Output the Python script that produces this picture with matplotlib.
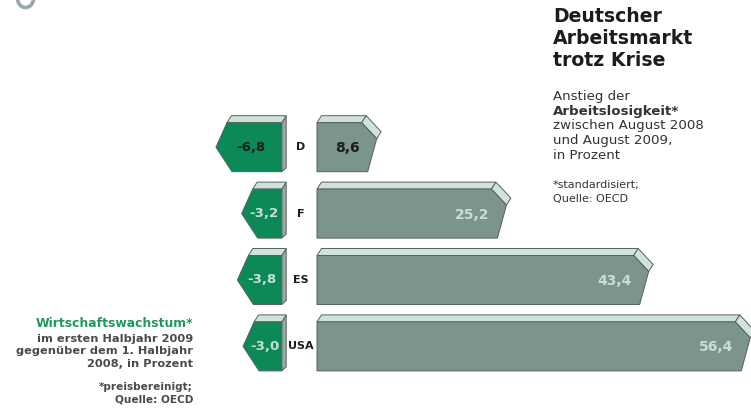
import matplotlib
matplotlib.use('Agg')
import matplotlib.pyplot as plt
from matplotlib.patches import Polygon, Arc

# ---------------- data ----------------
countries = ['D', 'F', 'ES', 'USA']
unemployment_rise = [8.6, 25.2, 43.4, 56.4]
unemployment_labels = ['8,6', '25,2', '43,4', '56,4']
growth = [-6.8, -3.2, -3.8, -3.0]
growth_labels = ['-6,8', '-3,2', '-3,8', '-3,0']
highlight = ['D']

title_lines = ['Deutscher', 'Arbeitsmarkt', 'trotz Krise']
subtitle_lines = [('Anstieg der', 'normal'), ('Arbeitslosigkeit*', 'bold'),
                  ('zwischen August 2008', 'normal'), ('und August 2009,', 'normal'),
                  ('in Prozent', 'normal')]
right_note = ['*standardisiert;', 'Quelle: OECD']
left_head = 'Wirtschaftswachstum*'
left_lines = ['im ersten Halbjahr 2009', 'gegenüber dem 1. Halbjahr', '2008, in Prozent']
left_note = ['*preisbereinigt;', 'Quelle: OECD']

# ---------------- style / layout ----------------
W, H = 751, 412
ROW0, ROWSTEP = 147.2, 66.4          # pixel centre of first row, row spacing
GRAY_ZERO, GRAY_PX = 309.5, 7.815    # pixel of value 0, pixels per unit
GREEN_ZERO, GREEN_PX = 264.5, 7.14
GRAY_START_PX = 317.0
GREEN_EDGE_PX = 281.7
HALF = 24.5        # half body height in px
DEPTH_X, DEPTH_Y = 4.5, 7.0

C_GREEN = '#0b8a57'
C_GRAY = '#7c958a'
C_TOP = '#cfe3da'
C_SIDE = '#9aa8a2'
C_EDGE = '#56625d'
C_LIGHTTXT = '#c9ddd5'
C_DARK = '#1c1c1c'
C_NOTE = '#4a4a4a'

fig = plt.figure(figsize=(W / 100, H / 100), dpi=100)
fig.patch.set_facecolor('white')


def make_ax(zero, pxu):
    ax = fig.add_axes([0, 0, 1, 1])
    ax.set_xlim(-zero / pxu, (W - zero) / pxu)
    ax.set_ylim((H - ROW0) / ROWSTEP, -ROW0 / ROWSTEP)
    ax.axis('off')
    ax.patch.set_alpha(0)
    return ax


ax_g = make_ax(GREEN_ZERO, GREEN_PX)
ax_r = make_ax(GRAY_ZERO, GRAY_PX)


def dy(p):
    return p / ROWSTEP


def add(ax, pts, fc, lw=0.7, z=2):
    ax.add_patch(Polygon(pts, closed=True, facecolor=fc, edgecolor=C_EDGE,
                         linewidth=lw, joinstyle='miter', zorder=z))


# ---- green (growth) bars ----
gx = lambda p: p / GREEN_PX
R = (GREEN_EDGE_PX - GREEN_ZERO) / GREEN_PX
for i, (v, lab, c) in enumerate(zip(growth, growth_labels, countries)):
    yt, yb = i - dy(HALF), i + dy(HALF)
    T = v
    add(ax_g, [(R, yt), (R + gx(DEPTH_X), yt - dy(DEPTH_Y)),
               (R + gx(DEPTH_X), yb - dy(4)), (R, yb)], C_SIDE)
    add(ax_g, [(T + gx(11), yt), (R, yt), (R + gx(DEPTH_X), yt - dy(DEPTH_Y)),
               (T + gx(11) + gx(DEPTH_X), yt - dy(DEPTH_Y))], C_TOP)
    add(ax_g, [(T + gx(11), yt), (R, yt), (R, yb), (T + gx(16), yb), (T, i)], C_GREEN)
    col = C_DARK if c in highlight else C_LIGHTTXT
    ax_g.text((T + gx(4) + R) / 2, i, lab, ha='center', va='center',
              fontsize=9.5, fontweight='bold', color=col, zorder=5)

# ---- gray (unemployment) bars ----
rx = lambda p: p / GRAY_PX
x0 = (GRAY_START_PX - GRAY_ZERO) / GRAY_PX
for i, (v, lab, c) in enumerate(zip(unemployment_rise, unemployment_labels, countries)):
    yt, yb = i - dy(HALF), i + dy(HALF)
    xe = v
    xc = xe - rx(15)
    add(ax_r, [(x0, yt), (xc, yt), (xc + rx(DEPTH_X), yt - dy(DEPTH_Y)),
               (x0 + rx(DEPTH_X), yt - dy(DEPTH_Y))], C_TOP)
    add(ax_r, [(xc, yt), (xe, yt + dy(16)), (xe + rx(DEPTH_X), yt + dy(16) - dy(DEPTH_Y)),
               (xc + rx(DEPTH_X), yt - dy(DEPTH_Y))], C_TOP)
    add(ax_r, [(x0, yt), (xc, yt), (xe, yt + dy(16)), (xe - rx(9), yb), (x0, yb)], C_GRAY)
    col = C_DARK if c in highlight else C_LIGHTTXT
    ax_r.text(xe - rx(17), i + dy(1), lab, ha='right', va='center',
              fontsize=10, fontweight='bold', color=col, zorder=5)
    ax_r.text((301 - GRAY_ZERO) / GRAY_PX, i, c, ha='center', va='center',
              fontsize=8, fontweight='bold', color=C_DARK, zorder=5)


# ---------------- texts ----------------
def ftext(xpx, ypx, s, **kw):
    fig.text(xpx / W, 1 - ypx / H, s, va='baseline', **kw)


for s, y in zip(title_lines, [21.7, 44.0, 66.0]):
    ftext(553, y, s, fontsize=13.6, fontweight='bold', color=C_DARK)
for (s, w), y in zip(subtitle_lines, [100, 114.7, 129.5, 144.2, 159]):
    ftext(553, y, s, fontsize=9.6, fontweight=w, color='#333333')
for s, y in zip(right_note, [188.5, 201.7]):
    ftext(553, y, s, fontsize=8, color='#333333')

ftext(193, 327, left_head, ha='right', fontsize=8.9, fontweight='bold', color='#1f9a5c')
for s, y in zip(left_lines, [341.5, 354.2, 367.0]):
    ftext(193, y, s, ha='right', fontsize=8.2, fontweight='bold', color=C_NOTE)
for s, y in zip(left_note, [390, 402.2]):
    ftext(193, y, s, ha='right', fontsize=7.6, fontweight='bold', color=C_NOTE)

# fragment of a shape cut off at the top-left edge
ax_frame = fig.add_axes([0, 0, 1, 1])
ax_frame.set_xlim(0, W)
ax_frame.set_ylim(H, 0)
ax_frame.axis('off')
ax_frame.patch.set_alpha(0)
ax_frame.add_patch(Arc((25.5, -1.5), 16, 18, theta1=0, theta2=180,
                       color='#93a7b1', lw=2.6))

fig.savefig('out.png', dpi=100, facecolor='white')
